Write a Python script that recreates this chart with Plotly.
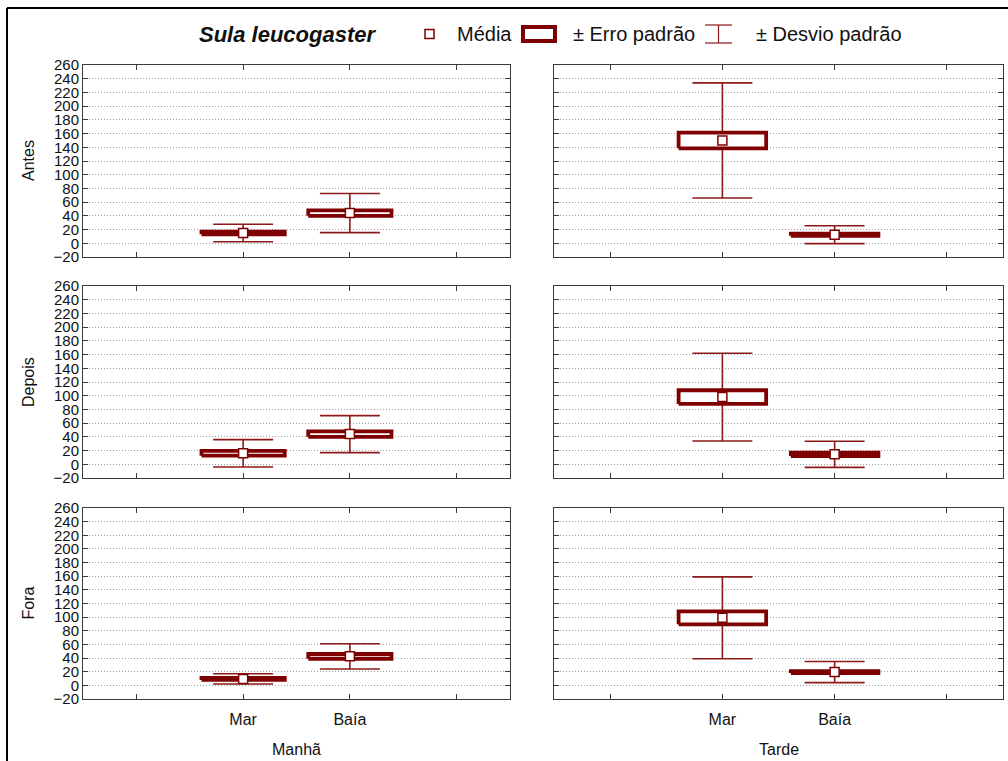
import plotly.graph_objects as go
from plotly.subplots import make_subplots

W, H = 1008, 761

# --- data -----------------------------------------------------------------
periods = ["Antes", "Depois", "Fora"]
shifts = ["Manhã", "Tarde"]
sites = ["Mar", "Baía"]
x_ticks = [0, 1, 2, 3]
x_ticktext = ["", "Mar", "Baía", ""]
y_ticks = list(range(-20, 261, 20))

# means, standard errors and standard deviations, one value per period
mean_manha_mar = [15.0, 16.0, 9.5]
mean_manha_baia = [44.0, 44.0, 42.5]
mean_tarde_mar = [150.0, 98.0, 99.0]
mean_tarde_baia = [12.5, 14.5, 19.5]

se_manha_mar = [2.0, 3.5, 1.5]
se_manha_baia = [4.0, 4.0, 3.5]
se_tarde_mar = [11.5, 10.0, 9.5]
se_tarde_baia = [1.5, 2.5, 1.5]

sd_manha_mar = [12.7, 20.0, 7.5]
sd_manha_baia = [28.5, 27.0, 18.5]
sd_tarde_mar = [84.0, 64.0, 60.0]
sd_tarde_baia = [13.0, 19.0, 15.5]

means = {("Manhã", "Mar"): mean_manha_mar, ("Manhã", "Baía"): mean_manha_baia,
         ("Tarde", "Mar"): mean_tarde_mar, ("Tarde", "Baía"): mean_tarde_baia}
ses = {("Manhã", "Mar"): se_manha_mar, ("Manhã", "Baía"): se_manha_baia,
       ("Tarde", "Mar"): se_tarde_mar, ("Tarde", "Baía"): se_tarde_baia}
sds = {("Manhã", "Mar"): sd_manha_mar, ("Manhã", "Baía"): sd_manha_baia,
       ("Tarde", "Mar"): sd_tarde_mar, ("Tarde", "Baía"): sd_tarde_baia}

# --- style ------------------------------------------------------------------
BOX = "#7f0000"
WHISK = "#8c1a1a"
AXIS = "#3a3a3a"
FONT = "Liberation Sans, Arial, sans-serif"
HALF_W = 0.39

# panel geometry in pixels
col_px = [(83, 510), (554, 1003)]
row_px = [(65, 257), (286, 478), (508, 699)]


def px_x(p):
    return p / W


def px_y(p):
    return 1 - p / H


fig = make_subplots(rows=3, cols=2)

for r, period in enumerate(periods):
    for c, shift in enumerate(shifts):
        xs = [x_ticks[x_ticktext.index(s)] for s in sites]
        m = [means[(shift, s)][r] for s in sites]
        se = [ses[(shift, s)][r] for s in sites]
        sd = [sds[(shift, s)][r] for s in sites]

        # ± standard deviation whiskers
        fig.add_trace(go.Scatter(
            x=xs, y=m, mode="markers",
            marker=dict(size=1, color="rgba(0,0,0,0)"),
            error_y=dict(type="data", array=sd, visible=True, width=30,
                         thickness=1.6, color=WHISK),
            hoverinfo="skip"), row=r + 1, col=c + 1)

        # ± standard error boxes
        for xi, mi, si in zip(xs, m, se):
            fig.add_trace(go.Scatter(
                x=[xi - HALF_W, xi + HALF_W, xi + HALF_W, xi - HALF_W, xi - HALF_W],
                y=[mi - si, mi - si, mi + si, mi + si, mi - si],
                mode="lines", fill="toself", fillcolor="white",
                line=dict(color=BOX, width=3.8),
                hoverinfo="skip"), row=r + 1, col=c + 1)

        # means
        fig.add_trace(go.Scatter(
            x=xs, y=m, mode="markers",
            marker=dict(symbol="square", size=9, color="white",
                        line=dict(color=BOX, width=1.5))), row=r + 1, col=c + 1)

        idx = r * 2 + c + 1
        xname = "xaxis" if idx == 1 else f"xaxis{idx}"
        yname = "yaxis" if idx == 1 else f"yaxis{idx}"
        x0, x1 = col_px[c]
        y0, y1 = row_px[r]
        fig.layout[xname].update(
            domain=[px_x(x0), px_x(x1)], range=[-0.5, 3.5],
            tickvals=x_ticks, ticktext=x_ticktext,
            showticklabels=(r == 2), ticks="inside", ticklen=5,
            tickcolor=AXIS, showline=True, linecolor=AXIS, linewidth=1,
            mirror="ticks", showgrid=False, zeroline=False,
            tickfont=dict(family=FONT, size=16, color="#111"),
            ticklabelstandoff=6, automargin=False)
        fig.layout[yname].update(
            domain=[px_y(y1), px_y(y0)], range=[-20, 260],
            tickvals=y_ticks, showticklabels=(c == 0),
            ticks="inside", ticklen=5, tickcolor=AXIS,
            showline=True, linecolor=AXIS, linewidth=1, mirror="ticks",
            showgrid=True, gridcolor="#a0a0a0", griddash="1px,2px", gridwidth=1,
            zeroline=False, tickfont=dict(family=FONT, size=15, color="#111"),
            automargin=False)

annotations = []
# row titles
for r, period in enumerate(periods):
    y0, y1 = row_px[r]
    annotations.append(dict(text=period, x=px_x(28), y=px_y((y0 + y1) / 2),
                            xanchor="center", yanchor="middle",
                            xref="paper", yref="paper", textangle=-90,
                            showarrow=False, font=dict(family=FONT, size=16, color="#111")))
# column titles
for c, shift in enumerate(shifts):
    x0, x1 = col_px[c]
    annotations.append(dict(text=shift, x=px_x((x0 + x1) / 2), y=px_y(749),
                            xanchor="center", yanchor="middle",
                            xref="paper", yref="paper", showarrow=False,
                            font=dict(family=FONT, size=16, color="#111")))

# legend row
LEG_Y = 34
annotations.append(dict(text="<b><i>Sula leucogaster</i></b>", x=px_x(288), y=px_y(LEG_Y),
                        xanchor="center", yanchor="middle",
                        xref="paper", yref="paper", showarrow=False,
                        font=dict(family=FONT, size=22, color="#111")))
for label, left in [("Média", 455), ("± Erro padrão", 571), ("± Desvio padrão", 754)]:
    annotations.append(dict(text=label, x=px_x(left), y=px_y(LEG_Y),
                            xanchor="left", yanchor="middle",
                            xref="paper", yref="paper", showarrow=False,
                            font=dict(family=FONT, size=20, color="#111")))

shapes = [
    # outer frame (top and left edges)
    dict(type="line", xref="paper", yref="paper", x0=px_x(7), x1=1, y0=px_y(8), y1=px_y(8),
         line=dict(color="black", width=2)),
    dict(type="line", xref="paper", yref="paper", x0=px_x(7), x1=px_x(7), y0=px_y(8), y1=0,
         line=dict(color="black", width=2)),
    # legend symbols
    dict(type="rect", xref="paper", yref="paper", x0=px_x(425), x1=px_x(434),
         y0=px_y(LEG_Y + 4.5), y1=px_y(LEG_Y - 4.5), line=dict(color=BOX, width=1.5),
         fillcolor="white"),
    dict(type="rect", xref="paper", yref="paper", x0=px_x(523), x1=px_x(555),
         y0=px_y(LEG_Y + 7), y1=px_y(LEG_Y - 7), line=dict(color=BOX, width=4),
         fillcolor="white"),
    dict(type="line", xref="paper", yref="paper", x0=px_x(718.5), x1=px_x(718.5),
         y0=px_y(LEG_Y + 9), y1=px_y(LEG_Y - 9), line=dict(color=WHISK, width=1.2)),
    dict(type="line", xref="paper", yref="paper", x0=px_x(705), x1=px_x(732),
         y0=px_y(LEG_Y + 9), y1=px_y(LEG_Y + 9), line=dict(color=WHISK, width=1.2)),
    dict(type="line", xref="paper", yref="paper", x0=px_x(705), x1=px_x(732),
         y0=px_y(LEG_Y - 9), y1=px_y(LEG_Y - 9), line=dict(color=WHISK, width=1.2)),
]

fig.update_layout(
    width=W, height=H, margin=dict(l=0, r=0, t=0, b=0),
    paper_bgcolor="white", plot_bgcolor="white", showlegend=False,
    font=dict(family=FONT, size=16, color="#111"),
    annotations=annotations, shapes=shapes)

fig.write_html("out.html")
